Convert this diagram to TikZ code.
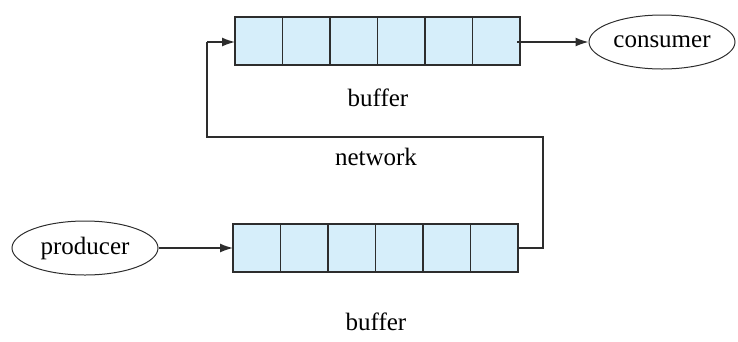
\documentclass[tikz,border=0pt]{standalone}
\usepackage{fontspec}
\setmainfont{Liberation Serif}
\usetikzlibrary{arrows.meta,shapes.geometric}
\definecolor{cellblue}{RGB}{214,238,250}
\definecolor{linegray}{RGB}{45,45,45}
\tikzset{
  cellbox/.style={draw=linegray,fill=cellblue,line width=1.4pt,minimum width=47.5pt,minimum height=48pt,inner sep=0pt,outer sep=0pt},
  proc/.style={draw=linegray,ellipse,line width=1pt,minimum width=146pt,minimum height=54pt,inner sep=0pt,font=\fontsize{25}{28}\selectfont},
  lbl/.style={font=\fontsize{25}{28}\selectfont,inner sep=0pt},
  conn/.style={draw=linegray,line width=1.4pt},
  arr/.style={conn,-{Latex[length=13pt,width=9pt]}}
}
\begin{document}
\begin{tikzpicture}[x=1pt,y=-1pt]
\useasboundingbox (0,0) rectangle (738,341);
% top buffer
\foreach \i in {0,...,5}{
  \node[cellbox] (t\i) at ({235+47.5*\i+23.75},41) {};
}
% bottom buffer
\foreach \i in {0,...,5}{
  \node[cellbox] (b\i) at ({233+47.5*\i+23.75},248) {};
}
\node[lbl] (tlabel) at (378,98) {buffer};
\node[lbl] (blabel) at (376,322) {buffer};
\node[lbl] (net) at (376,157) {network};
\node[proc] (cons) at (662,42) {consumer};
\node[proc] (prod) at (85,248) {producer};
\coordinate (c1) at (207,137);
\coordinate (c2) at (543,137);
\coordinate (c3) at (543,248);
\coordinate (c0) at (207,42);
\coordinate (tout) at (517,42);
\draw[arr] (prod.east) -- (b0.west);
\draw[arr] (tout) -- (cons.west |- tout);
\draw[conn] (b5.east) -- (c3) -- (c2) -- (c1) -- (c0);
\draw[arr] (c0) -- (t0.west |- c0);
\end{tikzpicture}
\end{document}
